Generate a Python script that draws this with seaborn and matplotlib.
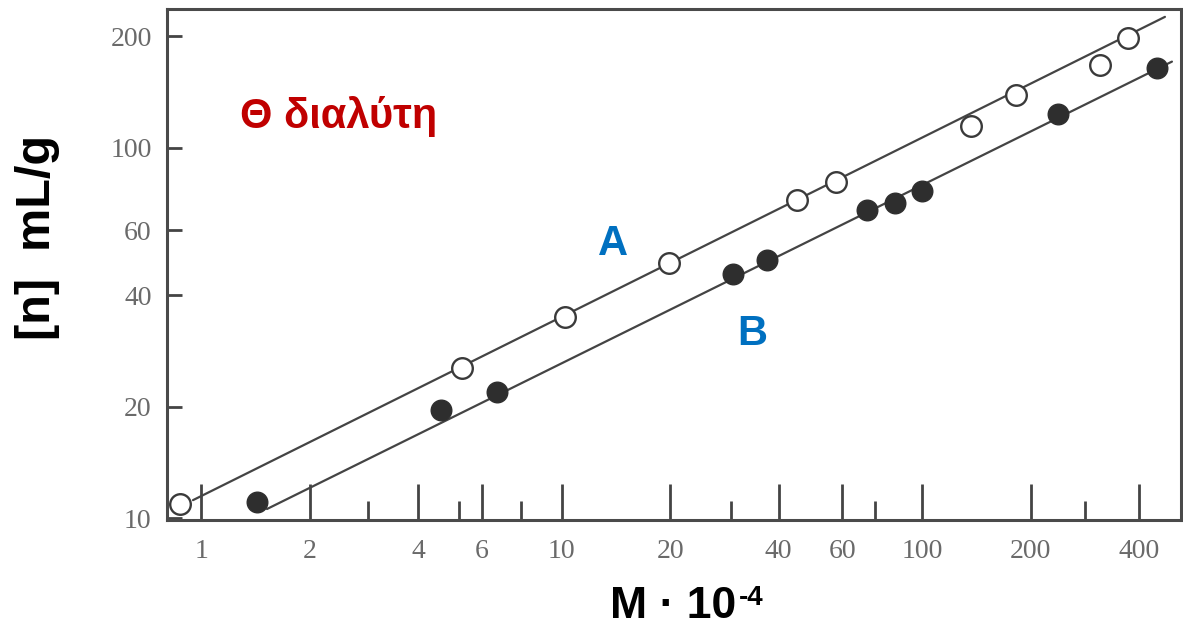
import numpy as np
import pandas as pd
import matplotlib
matplotlib.use("Agg")
import matplotlib.pyplot as plt
from matplotlib.ticker import FixedLocator, FixedFormatter, NullLocator, NullFormatter
import seaborn as sns

# ---- data ----
# Series A (open circles)
M_A = [0.873, 5.28, 10.2, 19.8, 45.0, 57.7, 136.7, 182.2, 311.6, 372.7]
eta_A = [10.96, 25.5, 34.9, 48.8, 72.1, 81.1, 114.2, 138.6, 167.8, 198.3]
# Series B (filled circles)
M_B = [1.43, 4.62, 6.63, 29.9, 37.1, 70.2, 84.1, 99.7, 238.8, 447.7]
eta_B = [11.08, 19.6, 21.9, 45.6, 49.8, 67.8, 71.1, 76.7, 123.2, 164.4]
# fitted straight lines (end points)
fitA_M = [0.948, 472.0]
fitA_eta = [11.2, 225.7]
fitB_M = [1.521, 493.6]
fitB_eta = [10.6, 170.9]

x_major = [1, 2, 4, 6, 10, 20, 40, 60, 100, 200, 400]
x_minor = [2.9, 5.2, 7.7, 29.5, 74, 283]
y_major = [10, 20, 40, 60, 100, 200]

sns.set_theme(style="white")
plt.rcParams["font.family"] = ["Liberation Sans", "DejaVu Sans"]

W, H = 1183, 629
fig = plt.figure(figsize=(W / 100, H / 100), dpi=100)
ax = fig.add_axes([167 / W, 1 - 520 / H, (1181 - 167) / W, (520 - 9) / H])
ax.set_xscale("log")
ax.set_yscale("log")

line_col = "#444444"
dfA = pd.DataFrame({"M": M_A, "eta": eta_A})
dfB = pd.DataFrame({"M": M_B, "eta": eta_B})
fitA = pd.DataFrame({"M": fitA_M, "eta": fitA_eta})
fitB = pd.DataFrame({"M": fitB_M, "eta": fitB_eta})

sns.lineplot(data=fitA, x="M", y="eta", ax=ax, color=line_col, linewidth=1.6, zorder=2)
sns.lineplot(data=fitB, x="M", y="eta", ax=ax, color=line_col, linewidth=1.6, zorder=2)
sns.scatterplot(data=dfA, x="M", y="eta", ax=ax, s=220, marker="o", color="white",
                edgecolor="#3a3a3a", linewidth=1.7, zorder=3, clip_on=False)
sns.scatterplot(data=dfB, x="M", y="eta", ax=ax, s=220, marker="o", color="#2e2e2e",
                edgecolor="#2e2e2e", linewidth=1.0, zorder=3)

ax.set_xlim(0.803, 523)
ax.set_ylim(9.9, 237)

ax.xaxis.set_major_locator(FixedLocator(x_major))
ax.xaxis.set_major_formatter(FixedFormatter([str(v) for v in x_major]))
ax.xaxis.set_minor_locator(FixedLocator(x_minor))
ax.xaxis.set_minor_formatter(NullFormatter())
ax.yaxis.set_major_locator(FixedLocator(y_major))
ax.yaxis.set_major_formatter(FixedFormatter([str(v) for v in y_major]))
ax.yaxis.set_minor_locator(NullLocator())

tick_col = "#444444"
lab_col = "#6a6a6a"
ax.tick_params(axis="x", which="major", direction="in", bottom=True, top=False,
               length=26, width=2, color=tick_col, pad=14, labelsize=20, labelcolor=lab_col)
ax.tick_params(axis="x", which="minor", direction="in", bottom=True, top=False,
               length=14, width=2, color=tick_col)
ax.tick_params(axis="y", which="major", direction="in", left=True, right=False,
               length=11, width=2, color=tick_col, pad=11, labelsize=20, labelcolor=lab_col)
for lab in ax.get_xticklabels() + ax.get_yticklabels():
    lab.set_fontfamily(["Liberation Serif", "DejaVu Serif"])

for sp in ax.spines.values():
    sp.set_visible(True)
    sp.set_color("#4a4a4a")
    sp.set_linewidth(2.2)

ax.set_xlabel("")
ax.set_ylabel("")

# annotations
ax.text(0.072, 0.767, "Θ διαλύτη", transform=ax.transAxes, color="#c00000",
        fontsize=30, fontweight="bold", ha="left", va="baseline")
ax.text(0.425, 0.5186, "A", transform=ax.transAxes, color="#0070c0",
        fontsize=30, fontweight="bold", ha="left", va="baseline")
ax.text(0.562, 0.3425, "B", transform=ax.transAxes, color="#0070c0",
        fontsize=30, fontweight="bold", ha="left", va="baseline")

fig.text(37 / W, 1 - 237 / H, "[n]  mL/g", rotation=90, ha="center", va="center",
         fontsize=35, fontweight="bold", color="black")
xl = fig.text(610 / W, 1 - 618 / H, "M · 10", ha="left", va="baseline",
              fontsize=32, fontweight="bold", color="black")
ax.annotate("-4", xy=(1.0, 1.0), xycoords=xl, xytext=(2, 1), textcoords="offset points",
            ha="left", va="top", fontsize=20, fontweight="bold", color="black",
            annotation_clip=False)

fig.savefig("out.png", dpi=100, facecolor="white")
